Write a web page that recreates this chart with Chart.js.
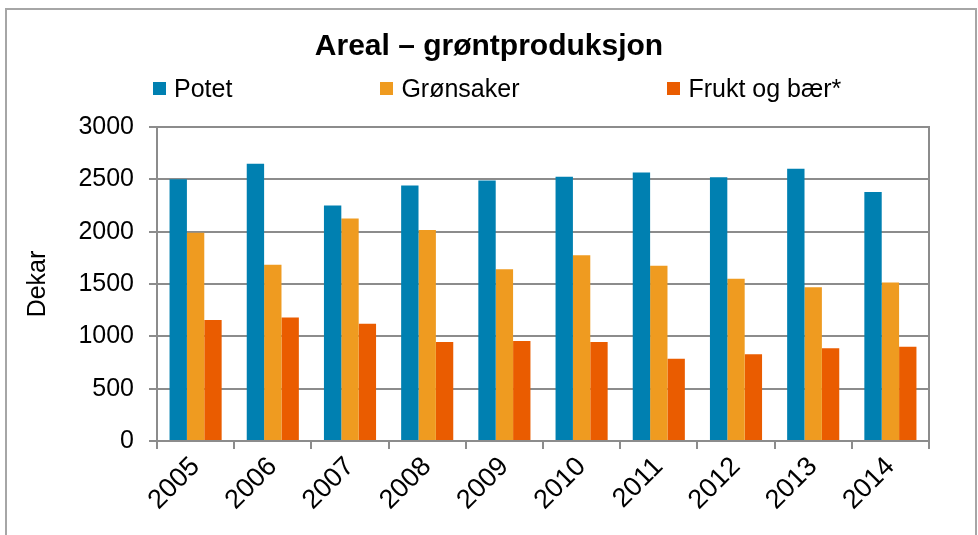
<html lang="no">
<head>
  <meta charset="UTF-8" />
  <title>Areal – grøntproduksjon</title>
  <script src="https://cdn.jsdelivr.net/npm/chart.js"></script>
  <style>
    body { margin: 0; background: #fff; font-family: "Liberation Sans", Arial, sans-serif; }
    #wrap { position: relative; width: 978px; height: 535px; overflow: hidden; }
    #frame { position: absolute; left: 5px; top: 8px; width: 968px; height: 560px; border: 2px solid #a6a6a6; }
    #legend { position: absolute; left: 153px; top: 74px; display: flex; gap: 148px; font-size: 25px; color: #000; }
    #legend span { display: flex; align-items: center; }
    #legend i { display: inline-block; width: 13px; height: 13px; margin-right: 8px; }
    canvas { position: absolute; left: 0; top: 0; }
  </style>
</head>
<body>
  <div id="wrap">
    <div id="frame"></div>
    <canvas id="chart" width="978" height="535"></canvas>
    <div id="legend"></div>
  </div>

  <script>
    const years = ['2005', '2006', '2007', '2008', '2009', '2010', '2011', '2012', '2013', '2014'];
    const potet = [2500, 2650, 2250, 2440, 2490, 2525, 2565, 2520, 2600, 2380];
    const gronnsaker = [1990, 1685, 2125, 2015, 1640, 1775, 1675, 1550, 1470, 1515];
    const fruktOgBaer = [1155, 1180, 1120, 945, 955, 945, 785, 830, 885, 900];
    const seriesNames = ['Potet', 'Grønsaker', 'Frukt og bær*'];
    const colors = ['#0080b1', '#ef9b20', '#ea5c00'];

    const gridColor = '#8c8c8c';
    const family = '"Liberation Sans", Arial, sans-serif';
    const font = { family, size: 25 };

    // legend as html, same order as the datasets
    const legend = document.getElementById('legend');
    seriesNames.forEach((name, i) => {
      const item = document.createElement('span');
      item.innerHTML = `<i style="background:${colors[i]}"></i>${name}`;
      legend.appendChild(item);
    });

    new Chart(document.getElementById('chart'), {
      type: 'bar',
      data: {
        labels: years,
        datasets: [potet, gronnsaker, fruktOgBaer].map((values, i) => ({
          label: seriesNames[i],
          data: values,
          backgroundColor: colors[i],
          categoryPercentage: 0.675,
          barPercentage: 1
        }))
      },
      options: {
        responsive: false,
        animation: false,
        layout: { padding: 0 },
        plugins: {
          legend: { display: false },
          tooltip: { enabled: false },
          title: {
            display: true,
            text: 'Areal – grøntproduksjon',
            color: '#000',
            font: { family, size: 30, weight: 'bold' },
            padding: { top: 29, bottom: 62 }
          }
        },
        scales: {
          x: {
            grid: { offset: true, drawOnChartArea: false, color: gridColor, lineWidth: 2, tickLength: 8 },
            border: { color: gridColor, width: 2 },
            ticks: { color: '#000', font: { family, size: 27 }, minRotation: 45, maxRotation: 45, padding: 2 },
            afterFit: s => { s.height = 94; }
          },
          y: {
            min: 0,
            max: 3000,
            ticks: { stepSize: 500, color: '#000', font, padding: 15, callback: v => String(v) },
            grid: { color: gridColor, lineWidth: 2, tickLength: 8 },
            border: { color: gridColor, width: 2 },
            title: { display: true, text: 'Dekar', color: '#000', font, padding: { top: 23, bottom: 0 } },
            afterFit: s => { s.width = 157; }
          },
          yRight: {
            position: 'right',
            min: 0,
            max: 3000,
            ticks: { display: false },
            grid: { drawOnChartArea: false, drawTicks: false },
            border: { color: gridColor, width: 2 },
            afterFit: s => { s.width = 49; }
          }
        }
      }
    });
  </script>
</body>
</html>
